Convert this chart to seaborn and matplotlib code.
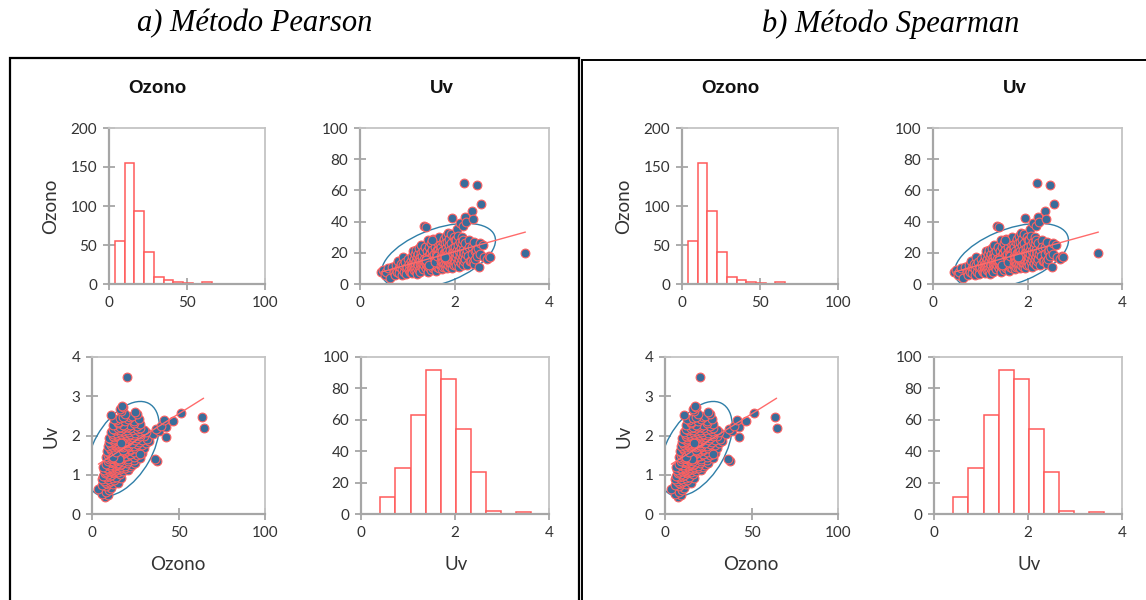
import numpy as np
import matplotlib
matplotlib.use("Agg")
import matplotlib.pyplot as plt
import seaborn as sns
from matplotlib.patches import Ellipse, Rectangle

# ---------------- data ----------------
uv = [
    # 0.41 - 0.73
    0.44, 0.48, 0.52, 0.56, 0.60, 0.63, 0.67, 0.71,
    # 0.73 - 1.06
    0.74, 0.76, 0.77, 0.79, 0.80, 0.82, 0.83, 0.85, 0.86, 0.88, 0.89, 0.91, 0.92, 0.94,
    0.95, 0.97, 0.98, 1.00, 1.01, 1.03, 1.04, 1.05,
    # 1.06 - 1.38
    1.07, 1.07, 1.08, 1.09, 1.10, 1.10, 1.11, 1.12, 1.12, 1.13, 1.14, 1.14, 1.15, 1.16,
    1.16, 1.17, 1.18, 1.18, 1.19, 1.20, 1.20, 1.21, 1.22, 1.22, 1.23, 1.24, 1.24, 1.25,
    1.26, 1.26, 1.27, 1.28, 1.28, 1.29, 1.30, 1.30, 1.31, 1.32, 1.32, 1.33, 1.34, 1.34,
    1.35, 1.35, 1.36, 1.37, 1.37,
    # 1.38 - 1.70
    1.39, 1.39, 1.40, 1.40, 1.41, 1.41, 1.42, 1.42, 1.43, 1.43, 1.44, 1.44, 1.45, 1.45,
    1.46, 1.46, 1.47, 1.47, 1.48, 1.48, 1.49, 1.49, 1.50, 1.50, 1.51, 1.51, 1.52, 1.52,
    1.53, 1.53, 1.54, 1.54, 1.55, 1.55, 1.56, 1.56, 1.57, 1.57, 1.58, 1.58, 1.59, 1.59,
    1.60, 1.60, 1.61, 1.61, 1.62, 1.62, 1.63, 1.63, 1.64, 1.64, 1.65, 1.65, 1.66, 1.66,
    1.67, 1.67, 1.68, 1.68, 1.69, 1.69, 1.70, 1.70, 1.39, 1.45, 1.52, 1.58, 1.64,
    # 1.70 - 2.02
    1.71, 1.71, 1.72, 1.72, 1.73, 1.73, 1.74, 1.74, 1.75, 1.75, 1.76, 1.76, 1.77, 1.77,
    1.78, 1.78, 1.79, 1.79, 1.80, 1.80, 1.81, 1.81, 1.82, 1.82, 1.83, 1.83, 1.84, 1.84,
    1.85, 1.85, 1.86, 1.86, 1.87, 1.87, 1.88, 1.88, 1.89, 1.89, 1.90, 1.90, 1.91, 1.91,
    1.92, 1.92, 1.93, 1.93, 1.94, 1.94, 1.95, 1.95, 1.96, 1.96, 1.97, 1.97, 1.98, 1.98,
    1.99, 1.99, 2.00, 2.00, 2.01, 2.01, 2.02, 2.02, 1.80,
    # 2.02 - 2.34
    2.03, 2.03, 2.04, 2.05, 2.05, 2.06, 2.07, 2.07, 2.08, 2.09, 2.09, 2.10, 2.11, 2.11,
    2.12, 2.13, 2.13, 2.14, 2.15, 2.15, 2.16, 2.17, 2.17, 2.18, 2.19, 2.19, 2.20, 2.20,
    2.21, 2.22, 2.22, 2.23, 2.24, 2.25, 2.26, 2.27, 2.28, 2.30, 2.31, 2.33,
    # 2.34 - 2.65
    2.35, 2.36, 2.37, 2.38, 2.39, 2.40, 2.41, 2.42, 2.43, 2.44, 2.46, 2.47, 2.48, 2.50,
    2.52, 2.54, 2.55, 2.57, 2.60, 2.63,
    # > 2.65
    2.68, 2.72, 2.75, 3.50,
]
ozono = [
    7.5, 9.0, 6.0, 8.0, 10.0, 3.7, 11.0, 8.0,
    6.0, 9.0, 12.0, 8.0, 15.0, 10.0, 7.0, 11.0, 13.0, 5.5, 9.5, 17.0, 12.0, 8.0,
    14.0, 10.0, 6.5, 11.0, 16.0, 9.0, 13.0, 7.5,
    12.0, 8.0, 15.0, 10.0, 18.0, 13.0, 7.0, 11.0, 21.0, 14.0, 9.0, 16.0, 12.0, 19.0,
    10.0, 13.5, 8.5, 15.0, 22.0, 11.0, 17.0, 6.5, 14.0, 12.5, 19.0, 9.0, 16.0, 23.0,
    13.0, 10.5, 17.0, 8.0, 14.5, 20.0, 12.0, 25.0, 15.0, 11.0, 18.0, 13.0, 9.5, 21.0,
    37.5, 16.0, 12.0, 24.0, 14.0,
    16.0, 36.6, 10.0, 13.0, 21.0, 14.0, 12.0, 17.0, 28.0, 11.0, 8.0, 15.0, 18.0, 13.0,
    24.0, 12.0, 11.0, 16.0, 15.0, 20.0, 19.0, 13.0, 26.0, 9.0, 13.5, 17.0, 17.0, 22.0,
    22.0, 12.0, 12.0, 15.0, 29.0, 10.0, 15.0, 18.0, 19.0, 14.0, 10.0, 16.0, 24.0, 12.0,
    14.0, 20.5, 8.5, 13.0, 17.0, 22.0, 27.0, 11.0, 12.0, 16.0, 22.0, 14.0, 16.0, 19.0,
    30.0, 10.5, 19.0, 13.0, 25.0, 15.0, 13.0, 21.0, 15.5, 12.0, 28.0, 14.0, 18.0,
    12.0, 18.0, 15.0, 24.0, 9.5, 17.0, 21.0, 14.0, 13.0, 27.0, 15.0, 11.0, 20.0, 29.0,
    13.0, 17.0, 26.0, 16.0, 11.0, 20.0, 31.0, 14.0, 19.0, 23.0, 18.0, 12.0, 10.0, 27.0,
    15.5, 21.0, 33.0, 12.5, 19.0, 16.0, 25.0, 14.0, 16.0, 29.0, 11.0, 22.0, 14.0, 18.0,
    32.0, 13.0, 18.0, 26.0, 10.0, 20.0, 42.5, 15.0, 17.0, 23.0, 13.0, 19.0, 30.0, 16.0,
    21.0, 12.0, 15.0, 28.0, 18.0, 24.0, 14.0, 20.0, 17.0,
    17.0, 28.0, 12.0, 22.0, 35.0, 19.0, 14.0, 25.0, 31.0, 16.0, 21.0, 11.0, 27.0, 18.0,
    39.0, 23.0, 13.5, 20.0, 30.0, 16.0, 26.0, 37.0, 12.0, 22.0, 18.0, 28.0, 15.0, 64.5,
    20.0, 43.0, 16.0, 26.0, 40.0, 19.0, 12.0, 22.0, 18.0, 28.0, 24.0, 15.0,
    15.0, 47.0, 24.0, 19.0, 14.0, 41.7, 13.0, 27.0, 21.0, 16.0, 22.0, 18.0, 63.3, 23.0,
    11.0, 26.0, 19.0, 51.3, 25.0, 17.0,
    16.0, 18.0, 17.5, 20.0,
]

oz_edges = [3.8, 10.0, 16.3, 22.5, 28.7, 35.0, 41.2, 47.4, 53.6, 59.8, 66.0]
oz_counts = [55, 155, 94, 41, 9, 5, 3, 1, 0, 2]
uv_edges = [0.41, 0.73, 1.06, 1.38, 1.70, 2.02, 2.34, 2.65, 2.97, 3.29, 3.61]
uv_counts = [11, 29, 63, 92, 86, 54, 27, 2, 0, 1]

headers = ["a) Método Pearson", "b) Método Spearman"]
var_names = ["Ozono", "Uv"]

# ---------------- style ----------------
sns.set_style("white")
plt.rcParams["font.family"] = ["Lato", "DejaVu Sans"]

W, H = 1146, 600
fig = plt.figure(figsize=(W / 100, H / 100), dpi=100)

HIST_EDGE = "#ff5a5a"
PT_FACE = "#3a6d9a"
PT_EDGE = "#ff6060"
ELL_COL = "#2f7fa8"
LINE_COL = "#ff6b6b"
TXT = "#333333"


def axrect(x0, y0, x1, y1):
    return [x0 / W, 1 - y1 / H, (x1 - x0) / W, (y1 - y0) / H]


def style(ax, xlim, xticks, ylim, yticks):
    ax.set_xlim(*xlim)
    ax.set_ylim(*ylim)
    ax.set_xticks(xticks)
    ax.set_yticks(yticks)
    ax.set_xticklabels([f"{t:g}" for t in xticks])
    ax.set_yticklabels([f"{t:g}" for t in yticks])
    for s in ["left", "bottom"]:
        ax.spines[s].set_color("#a6a6a6")
        ax.spines[s].set_linewidth(1.6)
    for s in ["top", "right"]:
        ax.spines[s].set_color("#c4c4c4")
        ax.spines[s].set_linewidth(1.3)
        ax.spines[s].set_visible(True)
    ax.tick_params(axis="both", direction="inout", length=9, width=1.3,
                   color="#a6a6a6", labelsize=11, labelcolor=TXT, pad=4)
    ax.tick_params(left=True, bottom=True)
    ax.set_xlabel("")
    ax.set_ylabel("")
    ax.grid(False)


def hist(ax, edges, counts):
    centers = [(edges[i] + edges[i + 1]) / 2 for i in range(len(counts))]
    sns.histplot(x=centers, weights=counts, bins=edges, ax=ax, color="white",
                 edgecolor=HIST_EDGE, linewidth=1.1, alpha=1)


def scatter(ax, x, y):
    x = np.asarray(x)
    y = np.asarray(y)
    # confidence ellipse (95 %)
    cov = np.cov(x, y)
    vals, vecs = np.linalg.eigh(cov)
    order = vals.argsort()[::-1]
    vals, vecs = vals[order], vecs[:, order]
    k = np.sqrt(5.991)
    ang = np.degrees(np.arctan2(vecs[1, 0], vecs[0, 0]))
    ax.add_patch(Ellipse((x.mean(), y.mean()), 2 * k * np.sqrt(vals[0]),
                         2 * k * np.sqrt(vals[1]), angle=ang, fill=False,
                         edgecolor=ELL_COL, linewidth=1.0, zorder=1))
    # points
    sns.scatterplot(x=x, y=y, ax=ax, s=40, color=PT_FACE, edgecolor=PT_EDGE,
                    linewidth=0.8, zorder=2, legend=False)
    # regression line
    b, a = np.polyfit(x, y, 1)
    xs = np.array([x.min(), x.max()])
    ax.plot(xs, a + b * xs, color=LINE_COL, linewidth=1.0, zorder=3)


def ftext(x, y, s, **kw):
    fig.text(x / W, 1 - y / H, s, ha="center", va="center", **kw)


for g, dx in enumerate([0, 573]):
    ax_tl = fig.add_axes(axrect(109 + dx, 128, 265 + dx, 284))
    hist(ax_tl, oz_edges, oz_counts)
    style(ax_tl, (0, 100), [0, 50, 100], (0, 200), [0, 50, 100, 150, 200])

    ax_tr = fig.add_axes(axrect(360 + dx, 128, 549 + dx, 284))
    scatter(ax_tr, uv, ozono)
    style(ax_tr, (0, 4), [0, 2, 4], (0, 100), [0, 20, 40, 60, 80, 100])

    ax_bl = fig.add_axes(axrect(92 + dx, 357, 265 + dx, 514))
    scatter(ax_bl, ozono, uv)
    style(ax_bl, (0, 100), [0, 50, 100], (0, 4), [0, 1, 2, 3, 4])

    ax_br = fig.add_axes(axrect(361 + dx, 357, 549 + dx, 514))
    hist(ax_br, uv_edges, uv_counts)
    style(ax_br, (0, 4), [0, 2, 4], (0, 100), [0, 20, 40, 60, 80, 100])

    # column titles
    ftext(157 + dx, 88, var_names[0], fontsize=13.5, fontweight="bold",
          family=["Liberation Sans", "DejaVu Sans"], color="#111111")
    ftext(442 + dx, 88, var_names[1], fontsize=13.5, fontweight="bold",
          family=["Liberation Sans", "DejaVu Sans"], color="#111111")
    # row labels
    ftext(51 + dx, 206, var_names[0], fontsize=13.5, rotation=90, color=TXT)
    ftext(51 + dx, 436, var_names[1], fontsize=13.5, rotation=90, color=TXT)
    # x labels
    ftext(178 + dx, 564, var_names[0], fontsize=13.5, color=TXT)
    ftext(456 + dx, 564, var_names[1], fontsize=13.5, color=TXT)

    # header
    ftext([255, 891][g], 24, headers[g], fontsize=22, fontstyle="italic",
          family=["Liberation Serif", "DejaVu Serif"], color="black")

# frames around the two panels
fig.add_artist(Rectangle((10 / W, -0.05), (578.5 - 10) / W, 1.05 - 58 / H,
                         transform=fig.transFigure, fill=False,
                         edgecolor="black", linewidth=1.6))
fig.add_artist(Rectangle((581.5 / W, -0.05), (1160 - 581.5) / W, 1.05 - 59.5 / H,
                         transform=fig.transFigure, fill=False,
                         edgecolor="black", linewidth=1.4))

fig.savefig("out.png", dpi=100)
